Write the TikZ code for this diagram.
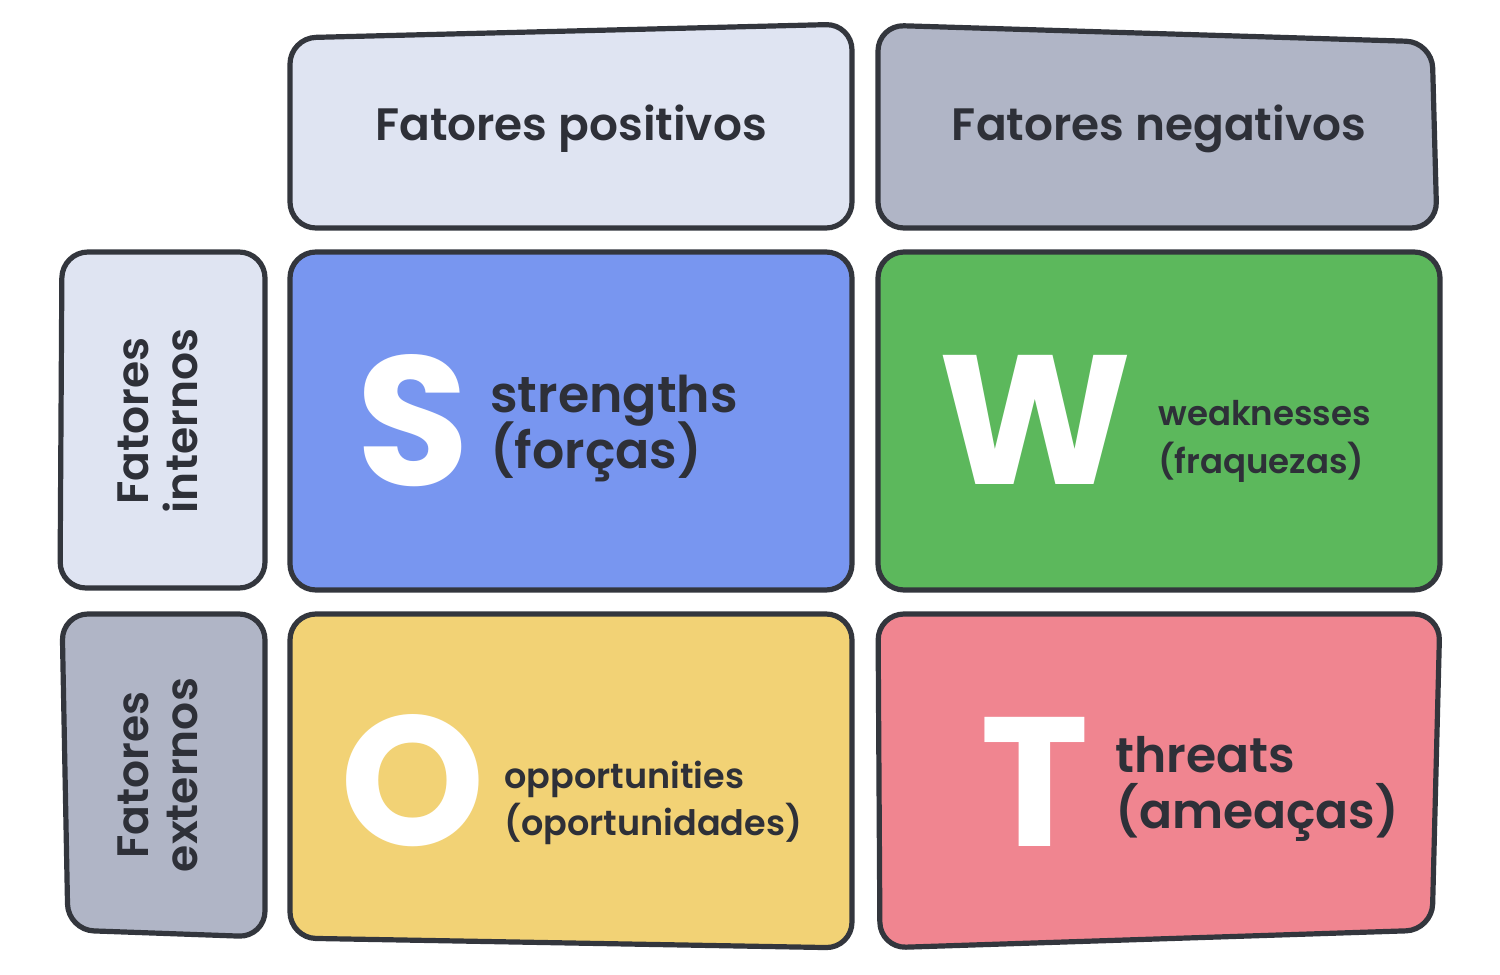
\documentclass[tikz,border=0pt]{standalone}
\usepackage{fontspec}
\setmainfont{Poppins}[UprightFont=* SemiBold, BoldFont=* Bold]
\definecolor{lightbg}{HTML}{DFE4F2}
\definecolor{greybg}{HTML}{B0B5C6}
\definecolor{sblue}{HTML}{7896F0}
\definecolor{wgreen}{HTML}{5CB85C}
\definecolor{oyellow}{HTML}{F2D275}
\definecolor{tpink}{HTML}{F08590}
\definecolor{edge}{HTML}{33363D}
\definecolor{ink}{HTML}{2E3038}
\begin{document}
\begin{tikzpicture}[x=0.5pt,y=-0.5pt,
  cell/.style={draw=edge, line width=2.6pt, rounded corners=13pt, line join=round},
  head/.style={text=ink, font=\fontsize{22.7}{28}\selectfont, inner sep=0pt, anchor=base},
  side/.style={text=ink, font=\fontsize{22}{24.5}\selectfont, inner sep=0pt, align=center, rotate=90},
  big/.style={text=white, font=\bfseries\fontsize{92}{92}\selectfont, inner sep=0pt},
  lab/.style={text=ink, anchor=base west, inner sep=0pt}]
\useasboundingbox (0,0) rectangle (1500,975);
% header cells
\path[cell, fill=lightbg] (290,38) -- (852,24) -- (852,228) -- (290,228) -- cycle;
\path[cell, fill=greybg] (878,25) -- (1432,42) -- (1437,228) -- (878,228) -- cycle;
% side cells
\path[cell, fill=lightbg] (62,252) -- (265,252) -- (265,588) -- (60,588) -- cycle;
\path[cell, fill=greybg] (62,614) -- (265,614) -- (265,937) -- (68,930) -- cycle;
% SWOT cells
\path[cell, fill=sblue] (290,252) -- (852,252) -- (852,590) -- (290,590) -- cycle;
\path[cell, fill=wgreen] (878,252) -- (1440,252) -- (1440,590) -- (878,590) -- cycle;
\path[cell, fill=oyellow] (290,614) -- (852,614) -- (852,948) -- (290,938) -- cycle;
\path[cell, fill=tpink] (878,614) -- (1440,614) -- (1432,930) -- (880,948) -- cycle;
% header texts
\node[head] (pos) at (571,140) {Fatores positivos};
\node[head] (neg) at (1159,140) {Fatores negativos};
\node[side] (int) at (158,421) {Fatores\\internos};
\node[side] (ext) at (158,775) {Fatores\\externos};
% big letters
\node[big] (S) at (413,421) {S};
\node[big] (W) at (1035,420) {W};
\node[big] (O) at (413,781) {O};
\node[big] (T) at (1035,782) {T};
% labels
\node[lab, font=\fontsize{25.3}{28}\selectfont] (s1) at (490,412) {strengths};
\node[lab, font=\fontsize{25.3}{28}\selectfont] (s2) at (490,468) {(forças)};
\node[lab, font=\fontsize{17}{20}\selectfont] (w1) at (1158,425) {weaknesses};
\node[lab, font=\fontsize{17}{20}\selectfont] (w2) at (1158,473) {(fraquezas)};
\node[lab, font=\fontsize{17.5}{20}\selectfont] (o1) at (504,788) {opportunities};
\node[lab, font=\fontsize{17.5}{20}\selectfont] (o2) at (504,835) {(oportunidades)};
\node[lab, font=\fontsize{24.4}{28}\selectfont] (t1) at (1115,772) {threats};
\node[lab, font=\fontsize{24.4}{28}\selectfont] (t2) at (1115,828) {(ameaças)};
\end{tikzpicture}
\end{document}
